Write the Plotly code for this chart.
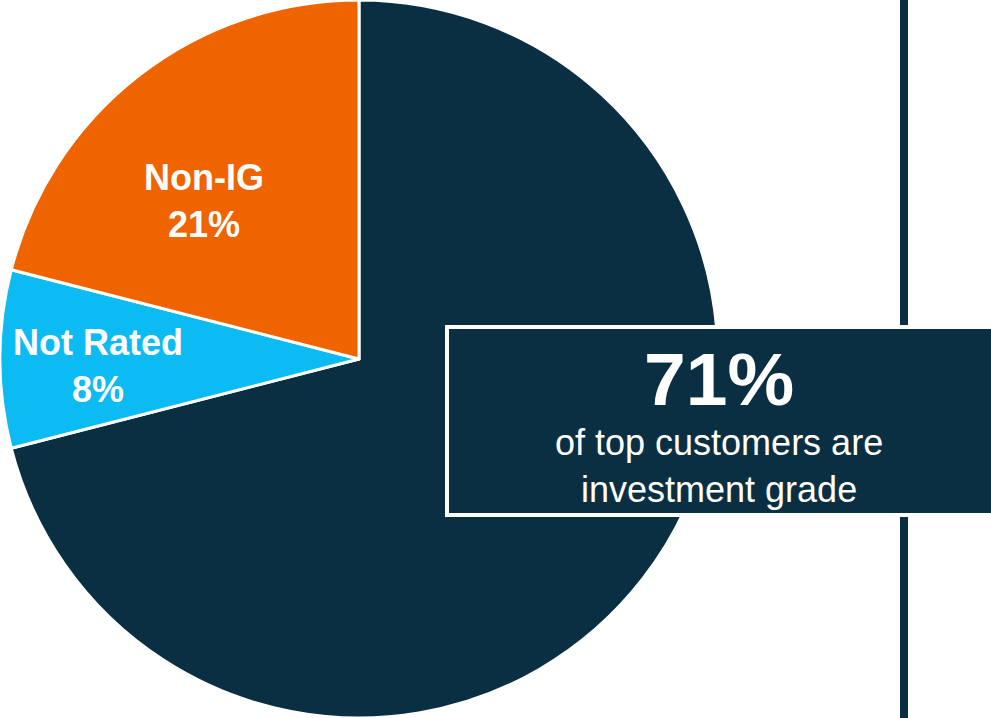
import plotly.graph_objects as go

# Data
labels = ["Investment Grade", "Not Rated", "Non-IG"]
values = [71, 8, 21]
colors = ["#0B2F42", "#0CBBF1", "#F06400"]
headline_value = 71
headline_text = "of top customers are<br>investment grade"

W, H = 991, 718

def px(x):
    return x / W

def py(y):
    return 1 - y / H

fig = go.Figure()
fig.add_trace(go.Pie(
    labels=labels,
    values=values,
    sort=False,
    direction="clockwise",
    rotation=0,
    marker=dict(colors=colors, line=dict(color="white", width=3)),
    textinfo="none",
    hoverinfo="label+percent",
    showlegend=False,
    domain=dict(x=[0, 718 / W], y=[0, 1]),
))

font_family = "Arial, Liberation Sans, sans-serif"

# Slice labels (built from the data)
label_pos = {"Non-IG": (204, 201), "Not Rated": (98, 366)}
for lab, val in zip(labels, values):
    if lab in label_pos:
        x, y = label_pos[lab]
        fig.add_annotation(
            x=px(x), y=py(y), xref="paper", yref="paper",
            text=f"<b>{lab}<br>{val}%</b>", showarrow=False,
            xanchor="center", yanchor="middle",
            font=dict(family=font_family, size=36, color="white"),
        )

# Decorative vertical line
fig.add_shape(type="line", xref="paper", yref="paper",
              x0=px(904), x1=px(904), y0=0, y1=1,
              line=dict(color="#0B2F42", width=8))

# Callout box
fig.add_shape(type="rect", xref="paper", yref="paper",
              x0=px(447), x1=px(1000), y0=py(515), y1=py(327),
              fillcolor="#0B2F42", line=dict(color="white", width=4))

fig.add_annotation(
    x=px(719), y=py(378.5), xref="paper", yref="paper",
    text=f"<b>{headline_value}%</b>", showarrow=False,
    xanchor="center", yanchor="middle",
    font=dict(family=font_family, size=75, color="white"),
)
fig.add_annotation(
    x=px(719), y=py(466), xref="paper", yref="paper",
    text=headline_text, showarrow=False,
    xanchor="center", yanchor="middle",
    font=dict(family=font_family, size=36, color="white"),
)

fig.update_layout(
    width=W, height=H,
    margin=dict(l=0, r=0, t=0, b=0),
    paper_bgcolor="white", plot_bgcolor="white",
    showlegend=False,
)

fig.write_html("out.html", config={"displayModeBar": False})
